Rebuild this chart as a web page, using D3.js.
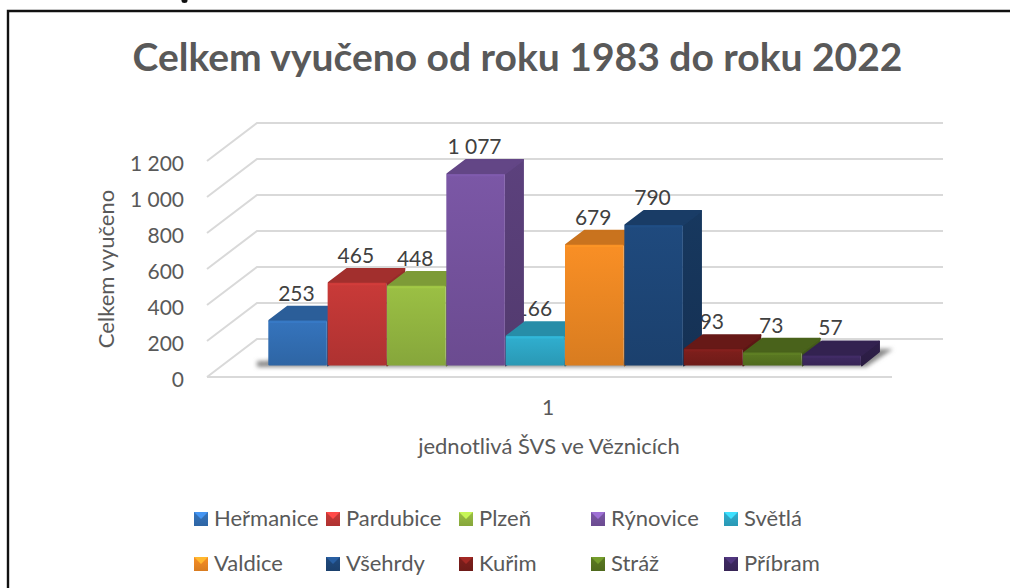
<!DOCTYPE html>
<html><head><meta charset="utf-8">
<script src="https://cdn.jsdelivr.net/npm/d3@7/dist/d3.min.js"></script>
<style>html,body{margin:0;padding:0;background:#fff;overflow:hidden}svg{display:block}text{font-family:Lato,"Noto Sans",sans-serif}</style>
</head><body><div id="c"></div>
<script>
const title = "Celkem vyučeno od roku 1983 do roku 2022";
const yAxisTitle = "Celkem vyučeno";
const xAxisTitle = "jednotlivá ŠVS ve Věznicích";
const categoryLabel = "1";
const names = ["Heřmanice","Pardubice","Plzeň","Rýnovice","Světlá","Valdice","Všehrdy","Kuřim","Stráž","Příbram"];
const values = [253,465,448,1077,166,679,790,93,73,57];
const labels = ["253","465","448","1 077","166","679","790","93","73","57"];
const colors = ["#3574bd","#c93a38","#9bc044","#7b57a6","#30afd0","#f98f25","#1f4a7e","#7f1f1c","#5b7a22","#3f2a63"];
const yTicks = [0,200,400,600,800,1000,1200];

const W=1010,H=588;
const svg=d3.select("#c").append("svg").attr("width",W).attr("height",H);
const defs=svg.append("defs");
// frame: top and left edges only, the page continues past the crop
svg.append("path").attr("d",`M1010,11H8V${H}`).attr("fill","none").attr("stroke","#111").attr("stroke-width",2.4);
// ink remnant of a line cut off by the top of the page
svg.append("ellipse").attr("cx",184.5).attr("cy",0.5).attr("rx",3).attr("ry",2.5).attr("fill","#111");

const fmt=v=>String(v).replace(/\B(?=(\d{3})+$)/g," ");
const yGrid=d3.scaleLinear().domain([0,1200]).range([377,161]);
const yBar=d3.scaleLinear().domain([0,1200]).range([365.6,152]);
const x=d3.scaleBand().domain(names).range([268.3,861.7]).padding(0);
const dxB=50,dyB=-38;         // floor depth
const dxD=18.5,dyD=-15;       // bar depth

// gridlines
const gridG=svg.append("g");
yTicks.forEach(t=>{
  const y=yGrid(t);
  gridG.append("path").attr("d",`M207,${y}L${207+dxB},${y+dyB}H943`).attr("fill","none").attr("stroke","#d9d9d9").attr("stroke-width",2);
});
gridG.append("path").attr("d",`M207,377H892`).attr("fill","none").attr("stroke","#d9d9d9").attr("stroke-width",2);

// floor shadow
const blur=defs.append("filter").attr("id","sh").attr("x","-20%").attr("y","-80%").attr("width","140%").attr("height","260%");
blur.append("feGaussianBlur").attr("stdDeviation",2);
svg.append("path").attr("filter","url(#sh)").attr("fill","#8a8a8a")
  .attr("d",`M257,367H866L893,349H872L862,360H268V361H257Z`);

// axis labels
const ax=svg.append("g").attr("transform","translate(184,2.5)");
ax.call(d3.axisLeft(yGrid).tickValues(yTicks).tickSize(0).tickFormat(fmt).tickPadding(0));
ax.select(".domain").remove();
ax.selectAll("text").attr("fill","#595959").attr("font-size",21).attr("font-family","Lato");

// value labels, drawn behind the bars so taller neighbours cover them
svg.append("g").selectAll("text").data(values).join("text")
  .attr("x",(v,i)=>x(names[i])+x.bandwidth()/2-1.5)
  .attr("y",(v,i)=>yBar(v)+dyD-5)
  .attr("text-anchor","middle").attr("font-size",21).attr("fill","#404040")
  .text((v,i)=>labels[i]);

// bars
function shade(c,k){return k>0?d3.rgb(c).brighter(k).formatHex():d3.rgb(c).darker(-k).formatHex();}
names.forEach((n,i)=>{
  const c=colors[i];
  const g=defs.append("linearGradient").attr("id","f"+i).attr("x1",0).attr("x2",0).attr("y1",0).attr("y2",1);
  g.append("stop").attr("offset",0).attr("stop-color",c);
  g.append("stop").attr("offset",1).attr("stop-color",shade(c,-0.4));
  const s=defs.append("linearGradient").attr("id","s"+i).attr("x1",0).attr("x2",0).attr("y1",0).attr("y2",1);
  s.append("stop").attr("offset",0).attr("stop-color",shade(c,-0.8));
  s.append("stop").attr("offset",1).attr("stop-color",shade(c,-1.15));
});
const bars=svg.append("g").selectAll("g").data(values).join("g");
bars.each(function(v,i){
  const g=d3.select(this),c=colors[i],l=x(names[i]),bw=x.bandwidth(),r=l+bw,y0=yBar(0),y1=yBar(v);
  const sideCol=`url(#s${i})`,topCol=shade(c,-0.6);
  g.append("path").attr("d",`M${r},${y1}L${r+dxD-1},${y1+dyD+1}V${y0+dyD+1}L${r},${y0}Z`).attr("fill",sideCol).attr("stroke",sideCol).attr("stroke-width",1.5).attr("stroke-linejoin","round");
  g.append("path").attr("d",`M${l+1},${y1}L${l+dxD+1},${y1+dyD+1}H${r+dxD-1}L${r-1},${y1}Z`).attr("fill",topCol).attr("stroke",topCol).attr("stroke-width",1.8).attr("stroke-linejoin","round");
  g.append("rect").attr("x",l).attr("y",y1).attr("width",bw-.8).attr("height",y0-y1).attr("rx",1).attr("fill",`url(#f${i})`);
  g.append("rect").attr("x",l+1).attr("y",y1+.5).attr("width",bw-2.8).attr("height",2).attr("fill",shade(c,0.25)).attr("opacity",.5);
});

// titles
svg.append("text").attr("x",517.5).attr("y",71).attr("text-anchor","middle").attr("font-size",39).attr("font-weight",700).attr("fill","#595959").text(title);
svg.append("text").attr("transform","translate(114,269) rotate(-90)").attr("text-anchor","middle").attr("font-size",22).attr("fill","#595959").text(yAxisTitle);
svg.append("text").attr("x",548).attr("y",415).attr("text-anchor","middle").attr("font-size",21).attr("fill","#595959").text(categoryLabel);
svg.append("text").attr("x",549).attr("y",454).attr("text-anchor","middle").attr("font-size",22).attr("fill","#595959").text(xAxisTitle);

// legend
const legX=[194,326,459,591,724,194,326,459,591,724];
const leg=svg.append("g").selectAll("g").data(names).join("g")
  .attr("transform",(d,i)=>`translate(${legX[i]},${i<5?512:557})`);
leg.append("rect").attr("width",14).attr("height",14).attr("fill",(d,i)=>`url(#f${i})`);
leg.append("path").attr("d","M0,0H14L7,7Z").attr("fill",(d,i)=>shade(colors[i],0.7));
leg.append("text").attr("x",20).attr("y",14).attr("font-size",22).attr("fill","#595959").text(d=>d);
</script></body></html>
